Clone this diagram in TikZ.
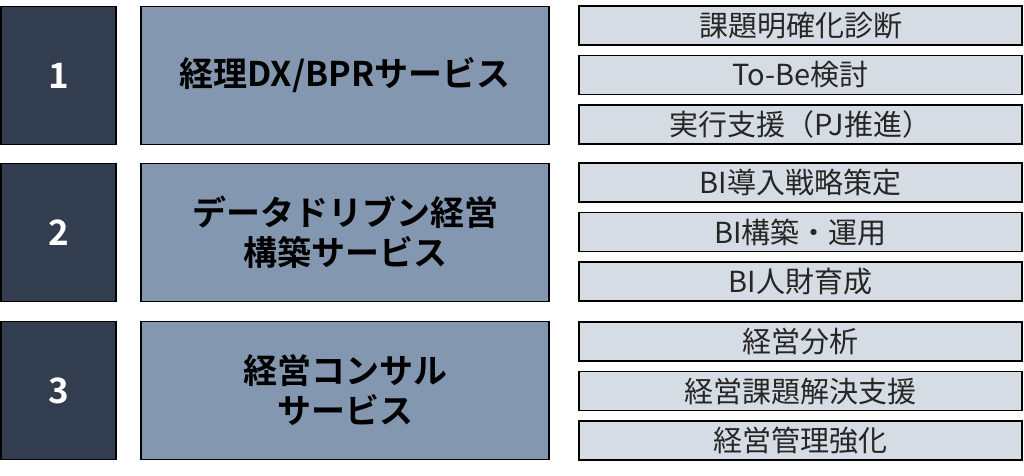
\documentclass[tikz,border=0pt]{standalone}
\usepackage{fontspec}
\setmainfont{Noto Sans CJK JP}
\newfontfamily\jpbold{Noto Sans CJK JP Bold}
\definecolor{darkbox}{HTML}{323E4F}
\definecolor{midbox}{HTML}{8497B0}
\definecolor{lightbox}{HTML}{D6DCE4}
\tikzset{
  numbox/.style={draw=black, line width=1.4pt, fill=darkbox, text=white, minimum width=115pt, minimum height=138pt, inner sep=0pt, font=\jpbold\fontsize{35}{40}\selectfont},
  svcbox/.style={draw=black, line width=1.4pt, fill=midbox, text=black, minimum width=408pt, minimum height=138pt, inner sep=0pt, align=center, font=\jpbold\fontsize{34}{40}\selectfont},
  subbox/.style={draw=black, line width=1.4pt, fill=lightbox, text=black!85, minimum width=443pt, minimum height=39pt, inner sep=0pt, font=\fontsize{29}{30}\selectfont}
}
\begin{document}
\begin{tikzpicture}[x=1pt,y=-1pt]
\useasboundingbox (0,0) rectangle (1024,475);
\foreach \i/\y in {1/75.5, 2/232.5, 3/390.5}{
  \node[numbox] (n\i) at (58.5,\y) {\i};
}
\node[svcbox] (s1) at (345,75.5) {経理DX/BPRサービス};
\node[svcbox] (s2) at (345,232.5) {データドリブン経営\\構築サービス};
\node[svcbox] (s3) at (345,390.5) {経営コンサル\\サービス};
\node[subbox] (a1) at (800.5,25.5) {課題明確化診断};
\node[subbox] (a2) at (800.5,75) {To-Be検討};
\node[subbox] (a3) at (800.5,124.5) {実行支援（PJ推進）};
\node[subbox] (b1) at (800.5,182.5) {BI導入戦略策定};
\node[subbox] (b2) at (800.5,232) {BI構築・運用};
\node[subbox] (b3) at (800.5,281.5) {BI人財育成};
\node[subbox] (c1) at (800.5,341.5) {経営分析};
\node[subbox] (c2) at (800.5,391) {経営課題解決支援};
\node[subbox] (c3) at (800.5,440.5) {経営管理強化};
\end{tikzpicture}
\end{document}
